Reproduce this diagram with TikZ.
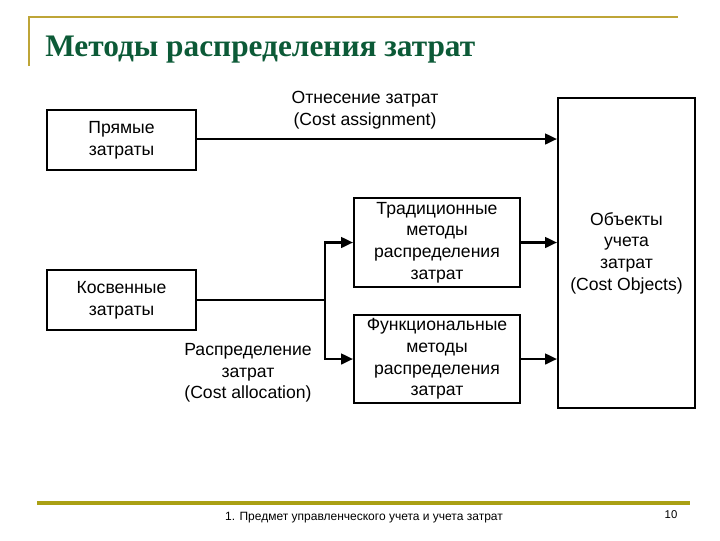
\documentclass[tikz,border=0pt]{standalone}
\usepackage{fontspec}
\setmainfont{Liberation Sans}
\newfontfamily\titlefont{Liberation Serif}
\usetikzlibrary{arrows.meta}
\definecolor{gold}{RGB}{190,165,55}
\definecolor{olivebar}{RGB}{170,160,20}
\definecolor{titlegreen}{RGB}{12,90,55}
\begin{document}
\begin{tikzpicture}[x=0.75pt,y=-0.75pt,
  box/.style={draw=black,line width=1.5pt,minimum width=0pt,inner sep=0pt},
  lbl/.style={font=\fontsize{13.2}{16.2}\selectfont,align=center,inner sep=0pt},
  conn/.style={line width=1.9pt,-{Triangle[length=9pt,width=8pt]}},
  plain/.style={line width=1.9pt}]
\useasboundingbox (0,0) rectangle (720,540);
% frame
\draw[gold,line width=1.5pt] (29,66) -- (29,17) -- (678,17);
\node[anchor=base west,text=titlegreen,font=\titlefont\bfseries\fontsize{23.5}{26}\selectfont,inner sep=0pt] (title) at (45,56) {Методы распределения затрат};
\draw[olivebar,line width=2.4pt] (37,503) -- (690,503);
\node[font=\fontsize{9}{11}\selectfont,inner sep=0pt] (foot) at (364,518) {1. Предмет управленческого учета и учета затрат};
\node[font=\fontsize{8.5}{10}\selectfont,inner sep=0pt] (pg) at (671,515) {10};
% boxes
\node[box,minimum width=149*0.75pt,minimum height=60*0.75pt] (direct) at (121.5,140) {};
\node[lbl] at (direct) {Прямые\\затраты};
\node[box,minimum width=149*0.75pt,minimum height=60*0.75pt] (indirect) at (121.5,300) {};
\node[lbl] at (indirect) {Косвенные\\затраты};
\node[box,minimum width=166*0.75pt,minimum height=89*0.75pt] (trad) at (437,242.5) {};
\node[lbl] at (trad) {Традиционные\\методы\\распределения\\затрат};
\node[box,minimum width=166*0.75pt,minimum height=88*0.75pt] (func) at (437,359) {};
\node[lbl] at (func) {Функциональные\\методы\\распределения\\затрат};
\node[box,minimum width=137*0.75pt,minimum height=310*0.75pt] (obj) at (626.5,253) {};
\node[lbl] at (obj) {Объекты\\учета\\затрат\\(Cost Objects)};
% labels
\node[lbl] (assign) at (365,110) {Отнесение затрат\\(Cost assignment)};
\node[lbl] (alloc) at (248,373) {Распределение\\затрат\\(Cost allocation)};
% connectors
\coordinate (j) at (325,300);
\draw[conn] (direct.east |- 0,139) -- (obj.west |- 0,139);
\draw[plain] (indirect.east) -- (j);
\draw[conn] (j) |- (trad.west);
\draw[conn] (j) |- (func.west);
\draw[conn] (trad.east) -- (obj.west |- trad.east);
\draw[conn] (func.east) -- (obj.west |- func.east);
\end{tikzpicture}
\end{document}
